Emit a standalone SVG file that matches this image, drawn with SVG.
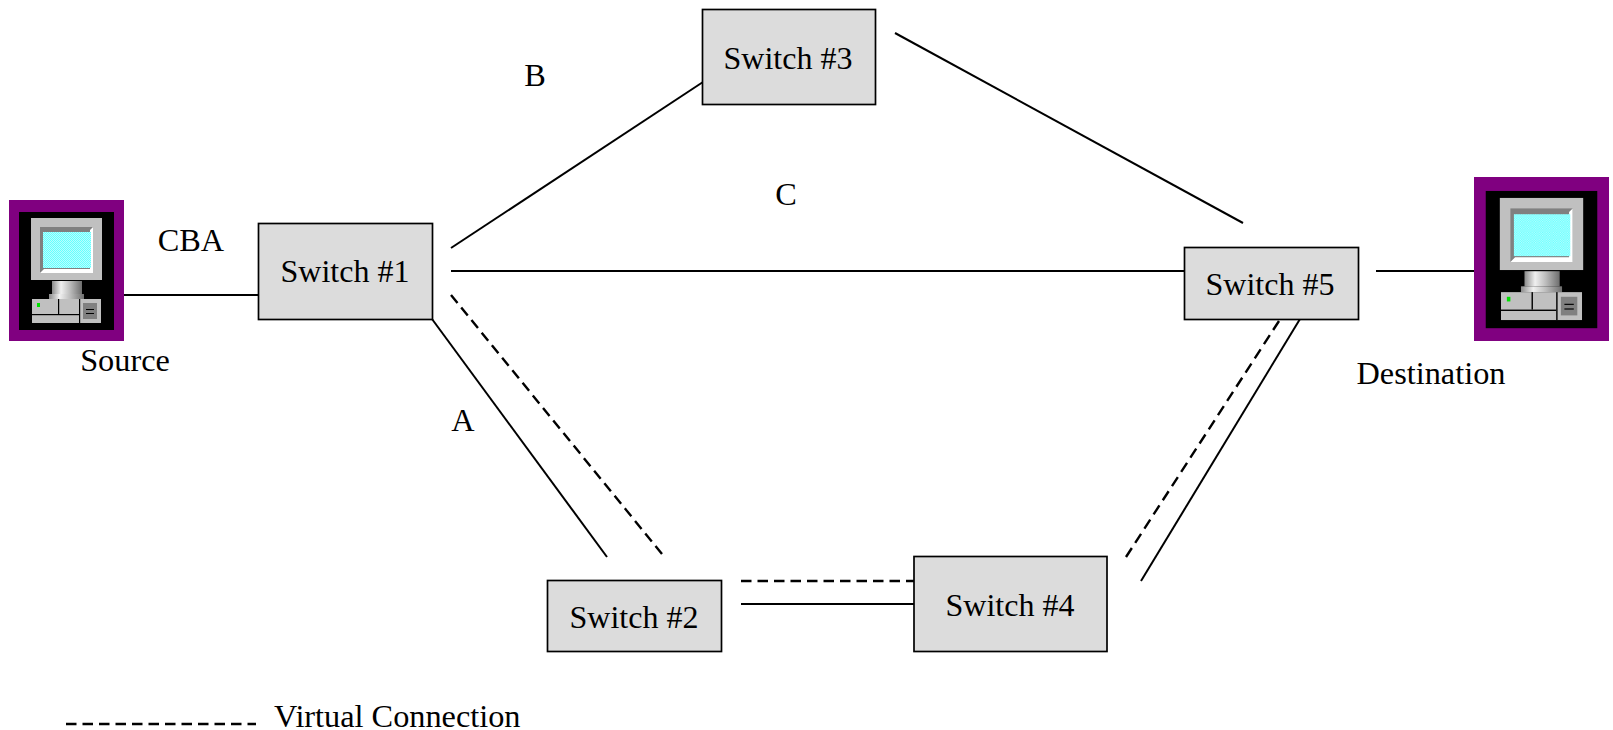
<svg xmlns="http://www.w3.org/2000/svg" width="1613" height="730" viewBox="0 0 1613 730">
<style>
text{font-family:"Liberation Serif","Times New Roman",serif;font-size:32.3px;fill:#000}
.sw{font-size:32px}
.box{fill:#dcdcdc;stroke:#000;stroke-width:1.7}
.l{stroke:#000;stroke-width:2;fill:none}
.d{stroke:#000;stroke-width:2.4;fill:none;stroke-dasharray:10.500 6}
</style>
<defs>
<linearGradient id="st"><stop offset="0" stop-color="#8a8a8a"/><stop offset=".3" stop-color="#f0f0f0"/><stop offset=".6" stop-color="#bdbdbd"/><stop offset="1" stop-color="#6e6e6e"/></linearGradient>
<pattern id="scr" width="2" height="2" patternUnits="userSpaceOnUse"><rect width="2" height="2" fill="#6ff"/><rect width="1" height="1" fill="#b8ffff"/><rect x="1" y="1" width="1" height="1" fill="#b8ffff"/></pattern>
<g id="pc">
<rect x="0" y="0" width="115" height="141" fill="#800080"/>
<rect x="10" y="12" width="95" height="118" fill="#000"/>
<rect x="22" y="18" width="71" height="62" fill="#c0c0c0"/>
<rect x="31" y="27" width="53" height="46" fill="#808080"/>
<path d="M31 73H84V27L81 30V69H35Z" fill="#fff"/>
<rect x="34" y="32" width="48" height="36" fill="url(#scr)"/>
<rect x="43" y="81" width="30" height="13" fill="url(#st)"/>
<rect x="40" y="94" width="35" height="5" fill="url(#st)"/>
<rect x="23" y="99" width="69" height="24" fill="#c0c0c0"/>
<rect x="49" y="99" width="1.200" height="15" fill="#000"/>
<rect x="23" y="114" width="47" height="1.200" fill="#000"/>
<rect x="70" y="99" width="1.200" height="24" fill="#000"/>
<rect x="74" y="103" width="14" height="16" fill="#808080"/>
<rect x="77" y="109" width="8" height="1" fill="#000"/>
<rect x="77" y="113" width="8" height="1" fill="#000"/>
<rect x="28" y="103" width="3" height="4" fill="#00e000"/>
</g>
</defs>
<g id="connectors">
<path class="l" d="M124 295H258"/>
<path class="l" d="M451 248L703 82"/>
<path class="l" d="M451 271H1184"/>
<path class="l" d="M432 319L607 557"/>
<path class="d" pathLength="340.500" d="M451 295L662 554"/>
<path class="l" d="M895 33L1243 223"/>
<path class="l" d="M1376 271H1474"/>
<path class="l" d="M741 604H914"/>
<path class="d" d="M741 581H914"/>
<path class="l" d="M1300 319L1141 581"/>
<path class="d" pathLength="274.500" d="M1126 557L1279 321"/>
</g>
<g id="source"><use href="#pc" transform="translate(9 200)"/><text x="125" y="371" text-anchor="middle">Source</text></g>
<g id="destination"><use href="#pc" transform="translate(1474 177) scale(1.174 1.163)"/><text x="1431" y="384" text-anchor="middle">Destination</text></g>
<g id="switch1"><rect class="box" x="258.500" y="223.500" width="174" height="96"/><text class="sw" x="345" y="282" text-anchor="middle">Switch #1</text></g>
<g id="switch2"><rect class="box" x="547.500" y="580.500" width="174" height="71"/><text class="sw" x="634" y="628" text-anchor="middle">Switch #2</text></g>
<g id="switch3"><rect class="box" x="702.500" y="9.500" width="173" height="95"/><text class="sw" x="788" y="69" text-anchor="middle">Switch #3</text></g>
<g id="switch4"><rect class="box" x="914" y="556.500" width="193" height="95"/><text class="sw" x="1010" y="616" text-anchor="middle">Switch #4</text></g>
<g id="switch5"><rect class="box" x="1184.500" y="247.500" width="174" height="72"/><text class="sw" x="1270" y="295" text-anchor="middle">Switch #5</text></g>
<g id="labels">
<text x="191" y="251" text-anchor="middle">CBA</text>
<text x="535" y="86" text-anchor="middle">B</text>
<text x="786" y="205" text-anchor="middle">C</text>
<text x="463" y="431" text-anchor="middle">A</text>
<path class="d" d="M66 724H256"/>
<text x="274" y="727">Virtual Connection</text>
</g>
</svg>
